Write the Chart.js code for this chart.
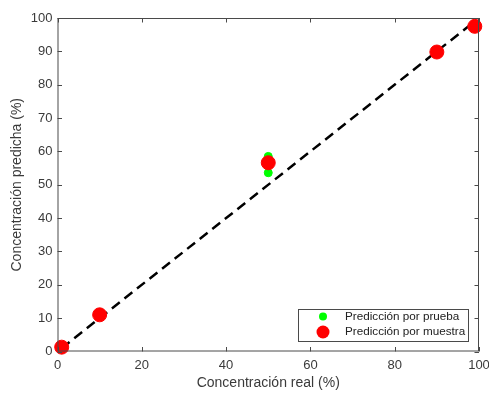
<!DOCTYPE html>
<html>
<head>
<meta charset="utf-8">
<script src="https://cdn.jsdelivr.net/npm/chart.js@4"></script>
<style>
  html, body { margin: 0; padding: 0; background: #fff; }
  #wrap { width: 489px; height: 394px; }
</style>
</head>
<body>
<div id="wrap"><canvas id="c" width="489" height="394"></canvas></div>
<script>
// ---- data ----
const realMuestra = [1, 10, 50, 90, 99];
const predMuestra = [1.3, 11, 56.6, 89.8, 97.5];
const realPrueba  = [1, 10, 50, 50, 50, 90, 99];
const predPrueba  = [1.3, 11, 58.5, 56.6, 53.6, 89.8, 97.5];
const idealX = [1, 99];
const idealY = [1, 99];
const xTicks = [0, 20, 40, 60, 80, 100];
const yTicks = [0, 10, 20, 30, 40, 50, 60, 70, 80, 90, 100];
const labels = ['Predicción por prueba', 'Predicción por muestra'];

const AXIS = '#4a4a4a';
const TEXT = '#3a3a3a';
const FONT = "'Liberation Sans', Arial, sans-serif";

const pts = (xs, ys) => xs.map((x, i) => ({ x, y: ys[i] }));

// box + inward ticks, matlab style
const boxTicks = {
  id: 'boxTicks',
  afterDraw(chart) {
    const { ctx, chartArea: a, scales } = chart;
    const len = 4.5;
    ctx.save();
    ctx.strokeStyle = AXIS;
    ctx.lineWidth = 1;
    ctx.strokeRect(a.left + 0.5, a.top + 0.5, a.right - a.left - 1, a.bottom - a.top - 1);
    ctx.beginPath();
    xTicks.forEach(v => {
      const px = Math.round(scales.x.getPixelForValue(v)) + 0.5;
      ctx.moveTo(px, a.bottom); ctx.lineTo(px, a.bottom - len);
      ctx.moveTo(px, a.top);    ctx.lineTo(px, a.top + len);
    });
    yTicks.forEach(v => {
      const py = Math.round(scales.y.getPixelForValue(v)) + 0.5;
      ctx.moveTo(a.left, py);  ctx.lineTo(a.left + len, py);
      ctx.moveTo(a.right, py); ctx.lineTo(a.right - len, py);
    });
    ctx.stroke();
    ctx.restore();
  }
};

// legend box inside the axes (lower right)
const boxLegend = {
  id: 'boxLegend',
  afterDraw(chart) {
    const { ctx } = chart;
    const x0 = 298, y0 = 309, w = 170, h = 32;
    ctx.save();
    ctx.fillStyle = '#fff';
    ctx.fillRect(x0, y0, w, h);
    ctx.strokeStyle = AXIS;
    ctx.lineWidth = 1;
    ctx.strokeRect(x0 + 0.5, y0 + 0.5, w, h);
    const items = [
      { color: '#00ff00', r: 4,   y: y0 + 7.5 },
      { color: '#ff0000', r: 6.5, y: y0 + 23 },
    ];
    ctx.font = '11.7px ' + FONT;
    ctx.textBaseline = 'middle';
    items.forEach((it, i) => {
      ctx.beginPath();
      ctx.arc(x0 + 25, it.y, it.r, 0, Math.PI * 2);
      ctx.fillStyle = it.color;
      ctx.fill();
      ctx.fillStyle = '#222';
      ctx.fillText(labels[i], x0 + 47, it.y);
    });
    ctx.restore();
  }
};

new Chart(document.getElementById('c'), {
  type: 'scatter',
  data: {
    datasets: [
      {
        label: labels[1],
        data: pts(realMuestra, predMuestra),
        backgroundColor: '#ff0000',
        borderColor: '#ff0000',
        pointRadius: 7,
        clip: false,
        order: 0,
      },
      {
        label: labels[0],
        data: pts(realPrueba, predPrueba),
        backgroundColor: '#00ff00',
        borderColor: '#00ff00',
        pointRadius: 4,
        clip: false,
        order: 1,
      },
      {
        label: 'ideal',
        data: pts(idealX, idealY),
        showLine: true,
        borderColor: '#000',
        borderWidth: 2.5,
        borderDash: [10, 6],
        pointRadius: 0,
        order: 2,
      }
    ]
  },
  options: {
    responsive: false,
    animation: false,
    layout: { padding: { left: 0, right: 10, top: 18, bottom: 0 } },
    plugins: { legend: { display: false }, tooltip: { enabled: false } },
    scales: {
      x: {
        type: 'linear', min: 0, max: 100,
        afterFit: s => { s.height = 42.5; s.paddingLeft = 0; s.paddingRight = 0; },
        afterBuildTicks: s => { s.ticks = xTicks.map(v => ({ value: v })); },
        grid: { display: false, drawTicks: false },
        border: { display: false },
        ticks: { color: TEXT, font: { family: FONT, size: 13 }, padding: 6 },
        title: { display: true, text: 'Concentración real (%)', color: TEXT,
                 font: { family: FONT, size: 14 }, padding: { top: 0, bottom: 2 } }
      },
      y: {
        type: 'linear', min: 0, max: 100,
        afterFit: s => { s.width = 57.5; s.paddingTop = 0; s.paddingBottom = 0; },
        afterBuildTicks: s => { s.ticks = yTicks.map(v => ({ value: v })); },
        grid: { display: false, drawTicks: false },
        border: { display: false },
        ticks: { color: TEXT, font: { family: FONT, size: 13 }, padding: 5 },
        title: { display: true, text: 'Concentración predicha (%)', color: TEXT,
                 font: { family: FONT, size: 14 }, padding: { top: 9, bottom: 0 } }
      }
    }
  },
  plugins: [boxTicks, boxLegend]
});
</script>
</body>
</html>
